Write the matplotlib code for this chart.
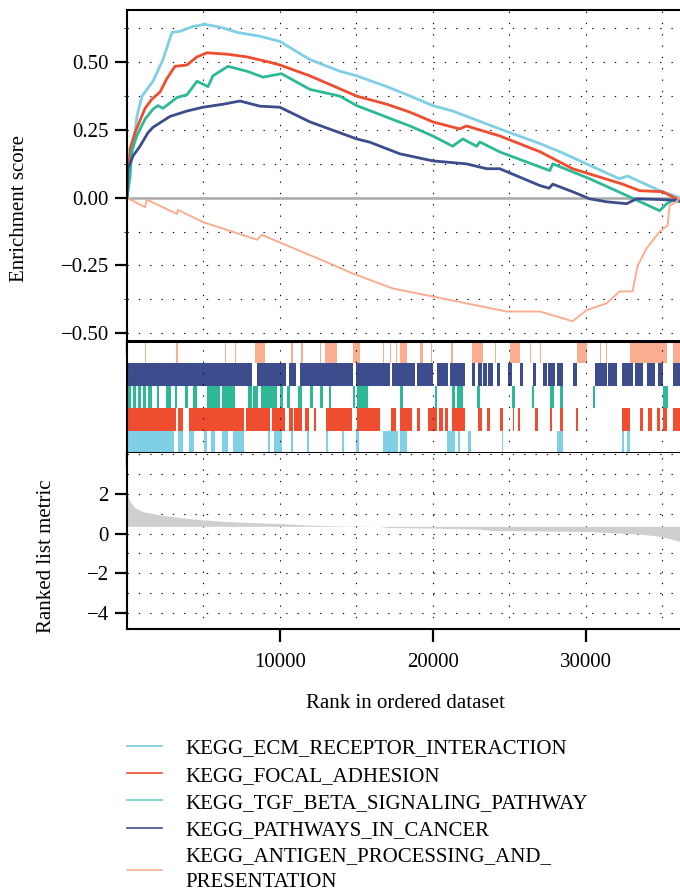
import matplotlib
matplotlib.use("Agg")
import matplotlib.pyplot as plt
from matplotlib.lines import Line2D
from matplotlib.ticker import MultipleLocator, FixedLocator

plt.rcParams['font.family'] = ['Liberation Serif', 'DejaVu Serif']

# gene set names and colours
names = ["KEGG_ECM_RECEPTOR_INTERACTION", "KEGG_FOCAL_ADHESION",
         "KEGG_TGF_BETA_SIGNALING_PATHWAY", "KEGG_PATHWAYS_IN_CANCER",
         "KEGG_ANTIGEN_PROCESSING_AND_\nPRESENTATION"]
colors = ["#7fcfe6", "#ee4d2f", "#2db996", "#3c4c8d", "#fbad90"]
legend_colors = ["#7cc6dc", "#ee4d2f", "#66d4c4", "#3c4c8d", "#f6ae96"]

# running enrichment score (rank, ES)
ecm_x = [0, 200, 457, 650, 980, 1700, 2350, 2940, 3460, 4310, 5100, 6080, 7250, 8700,
         10000, 11960, 13920, 15030, 17000, 18500, 20000, 21300, 24380, 27000, 28300,
         32200, 32750, 34840, 35950, 36150]
ecm_y = [0, 0.12, 0.21, 0.30, 0.375, 0.43, 0.51, 0.61, 0.614, 0.632, 0.64, 0.63, 0.61, 0.596,
         0.577, 0.51, 0.467, 0.45, 0.41, 0.376, 0.34, 0.32, 0.254, 0.2, 0.17,
         0.07, 0.08, 0.026, 0.004, 0.0]

focal_x = [0, 200, 520, 1180, 1630, 2160, 2610, 3140, 3920, 4580, 5230, 6540, 7840, 9350,
           10000, 11960, 15030, 17000, 18500, 20000, 21760, 22200, 24380, 27000, 29150,
           32420, 33530, 35030, 36150]
focal_y = [0, 0.18, 0.24, 0.33, 0.364, 0.39, 0.44, 0.485, 0.49, 0.52, 0.535, 0.53, 0.52, 0.50,
           0.49, 0.45, 0.375, 0.345, 0.316, 0.28, 0.254, 0.265, 0.228, 0.17, 0.107,
           0.05, 0.026, 0.022, -0.01]

tgf_x = [0, 200, 300, 650, 1180, 1700, 2030, 2350, 3270, 3920, 4580, 5300, 5620, 6600, 7840,
         8900, 10100, 11960, 13920, 15030, 17650, 18500, 20000, 21300, 21960, 22880, 23070,
         24380, 27650, 27850, 30260, 32420, 34840, 35300, 35690, 36150]
tgf_y = [0, 0.08, 0.17, 0.23, 0.29, 0.327, 0.34, 0.33, 0.37, 0.38, 0.43, 0.41, 0.45, 0.485, 0.467,
         0.445, 0.458, 0.40, 0.375, 0.34, 0.283, 0.265, 0.228, 0.19, 0.217, 0.19, 0.206,
         0.169, 0.10, 0.125, 0.07, 0.015, -0.048, -0.022, -0.01, -0.015]

cancer_x = [0, 60, 400, 850, 1370, 1700, 2810, 3920, 4970, 6270, 7390, 8690, 10000, 11960,
            15030, 15880, 17850, 20000, 22200, 23530, 24380, 27000, 27600, 27850, 29150,
            30260, 31370, 32680, 33330, 35030, 35950, 36150]
cancer_y = [0, 0.107, 0.155, 0.19, 0.24, 0.26, 0.30, 0.32, 0.334, 0.345, 0.357, 0.338, 0.334, 0.28,
            0.217, 0.205, 0.162, 0.136, 0.125, 0.107, 0.107, 0.045, 0.035, 0.05, 0.022,
            -0.004, -0.015, -0.022, -0.004, -0.007, -0.01, -0.01]

antigen_x = [0, 1180, 1300, 3270, 3330, 4970, 6930, 8500, 8820, 10200, 13270, 14770, 17390,
             20460, 23070, 24840, 27000, 29150, 30060, 31370, 32220, 33070, 33400, 33990,
             34840, 35360, 35490, 35950, 36150]
antigen_y = [0, -0.035, -0.007, -0.06, -0.045, -0.09, -0.126, -0.155, -0.137, -0.17, -0.243,
             -0.28, -0.335, -0.37, -0.40, -0.42, -0.42, -0.456, -0.415, -0.39, -0.346, -0.346,
             -0.25, -0.187, -0.125, -0.103, -0.029, -0.015, 0.0]

# hit positions (rank ranges) in the rug panel
ecm_hits = [(0, 3075), (3335, 3660), (4055, 4380), (5035, 5230), (5495, 5755), (6215, 6605),
            (6930, 7650), (9220, 9350), (9615, 10135), (10725, 10855), (11770, 11905),
            (13015, 13145), (14060, 14190), (14975, 15175), (16740, 17725), (17855, 18310),
            (20930, 21450), (21645, 21780), (22300, 22500), (24525, 24590), (28120, 28515),
            (32375, 32505), (32700, 32900)]
focal_hits = [(0, 3205), (3335, 3660), (4055, 7650), (7785, 9350), (9485, 10335), (10595, 10855),
              (10920, 11445), (11640, 11905), (12230, 12360), (13015, 14715), (15045, 16545),
              (17265, 17590), (17855, 18640), (18965, 19160), (19685, 20275), (20405, 20665),
              (20800, 20995), (21255, 22105), (22955, 23215), (23545, 23740), (24395, 24590),
              (25245, 25310), (25570, 25700), (26685, 26880), (27665, 27795), (28320, 28515),
              (29365, 29495), (32375, 32900), (33550, 33745), (34075, 34335), (34660, 34860),
              (35055, 35315), (35710, 36170)]
tgf_hits = [(0, 260), (390, 590), (720, 915), (1045, 1245), (1375, 1635), (1960, 2095),
            (2550, 2880), (3140, 3270), (3795, 3990), (4315, 4580), (5230, 6080), (6215, 7065),
            (7915, 8175), (8240, 8570), (8765, 9810), (10005, 10200), (10465, 10660),
            (11185, 11445), (11970, 12165), (12620, 12820), (13210, 13340), (14780, 14910),
            (15045, 15760), (17855, 18050), (20145, 20275), (21255, 21450), (21580, 21975),
            (22890, 23085), (25180, 25375), (26490, 26620), (27665, 27925), (28320, 28515),
            (30480, 30610), (35055, 35380)]
cancer_hits = [(0, 8175), (8500, 10400), (10595, 11085), (11315, 14780), (14975, 17200),
               (17330, 18835), (18945, 20010), (20255, 20995), (21125, 22105), (22545, 22760),
               (22955, 23195), (23285, 23525), (23610, 23935), (24180, 24395), (24915, 25160),
               (25700, 25880), (26530, 26750), (27200, 27450), (27535, 27990), (28100, 28515),
               (29170, 29410), (30610, 31370), (31460, 32025), (32355, 33090), (33225, 33745),
               (33990, 34530), (34730, 35060), (35710, 36170)]
antigen_hits = [(1175, 1275), (3205, 3335), (6410, 6505), (7065, 7160), (8370, 9025),
                (10725, 10825), (11380, 11480), (12620, 12720), (12950, 13730), (14780, 15240),
                (16740, 16840), (17200, 17300), (17590, 17690), (17855, 18310), (19160, 19360),
                (19880, 19980), (21190, 21290), (22565, 23285), (24065, 24165), (25050, 25700),
                (26355, 26455), (27010, 27110), (29430, 30085), (30935, 31030), (31325, 31425),
                (32900, 35315), (35710, 36170)]

# ranked list metric
metric_x = [0, 200, 500, 1000, 2000, 3000, 4000, 5000, 6500, 8000, 10000, 12000, 14000, 16500,
            17000, 20000, 23000, 24000, 27000, 30000, 31500, 33000, 34500, 35500, 36150]
metric_y = [2.0, 1.6, 1.3, 1.1, 0.95, 0.85, 0.75, 0.68, 0.6, 0.55, 0.5, 0.42, 0.38, 0.36,
            0.3, 0.27, 0.22, 0.15, 0.13, 0.1, 0.05, 0.0, -0.1, -0.25, -0.4]
metric_base = 0.36

xs = [ecm_x, focal_x, tgf_x, cancer_x, antigen_x]
ys = [ecm_y, focal_y, tgf_y, cancer_y, antigen_y]
hits = [ecm_hits, focal_hits, tgf_hits, cancer_hits, antigen_hits]

W, H = 680, 892
fig = plt.figure(figsize=(W / 100, H / 100), dpi=100)
left = 127 / W
width = 1 - left
xmax = 36170
dots = (0, (1.2, 9))

def box(top_px, bot_px):
    return [left, 1 - bot_px / H, width, (bot_px - top_px) / H]

ax1 = fig.add_axes(box(10, 341))
ax2 = fig.add_axes(box(341, 453))
ax3 = fig.add_axes(box(453, 629))

# enrichment score panel
ax1.axhline(0, color="#a8a8a8", lw=1.8, zorder=1)
lws = [2.0, 2.0, 2.0, 2.0, 1.4]
for x, y, c, lw in zip(xs, ys, colors, lws):
    ax1.plot(x, y, color=c, lw=lw, zorder=2)
ax1.set_xlim(0, xmax)
ax1.set_ylim(-0.529, 0.693)
ax1.yaxis.set_major_locator(FixedLocator([-0.5, -0.25, 0, 0.25, 0.5]))
ax1.set_yticklabels(["\u22120.50", "\u22120.25", "0.00", "0.25", "0.50"])
ax1.yaxis.set_minor_locator(MultipleLocator(0.125))
ax1.xaxis.set_major_locator(MultipleLocator(5000))
ax1.tick_params(axis="x", length=0, labelbottom=False)
ax1.grid(True, which="both", color="black", lw=0.8, ls=dots)
ax1.set_axisbelow(True)
for s in ["right", "bottom"]:
    ax1.spines[s].set_visible(False)

# rug panel: light blue at the bottom row, salmon at the top row
for row, (h, c) in enumerate(zip(hits, colors)):
    ax2.broken_barh([(a, b - a) for a, b in h], (row, 1), facecolors=c, lw=0)
ax2.set_xlim(0, xmax)
ax2.set_ylim(0, 5)
ax2.set_yticks([])
ax2.xaxis.set_major_locator(MultipleLocator(5000))
ax2.tick_params(axis="x", length=0, labelbottom=False)
ax2.grid(True, axis="x", color="black", lw=0.8, ls=dots)
ax2.set_axisbelow(False)
ax2.spines["right"].set_visible(False)
ax2.spines["top"].set_linewidth(2.2)
ax2.spines["bottom"].set_linewidth(2.2)

# ranked list metric panel
ax3.fill_between(metric_x, metric_y, metric_base, color="#cfcfcf", lw=0)
ax3.set_xlim(0, xmax)
ax3.set_ylim(-4.78, 4.03)
ax3.yaxis.set_major_locator(FixedLocator([-4, -2, 0, 2]))
ax3.yaxis.set_minor_locator(MultipleLocator(1))
ax3.xaxis.set_major_locator(FixedLocator([10000, 20000, 30000]))
ax3.xaxis.set_minor_locator(MultipleLocator(5000))
ax3.grid(True, which="both", color="black", lw=0.8, ls=dots)
ax3.set_axisbelow(True)
ax3.tick_params(which="minor", length=0)
for s in ["right", "top"]:
    ax3.spines[s].set_visible(False)

for ax in (ax1, ax2, ax3):
    ax.spines["left"].set_linewidth(1.5)
    ax.tick_params(which="major", length=9, width=1.6, labelsize=15, pad=4)
ax3.tick_params(axis="x", which="major", pad=8)
ax1.spines["top"].set_linewidth(1.5)
ax3.spines["bottom"].set_linewidth(1.5)

fig.text(20 / W, 1 - 208 / H, "Enrichment score", rotation=90, ha="center", va="center", fontsize=15)
fig.text(47 / W, 1 - 556 / H, "Ranked list metric", rotation=90, ha="center", va="center", fontsize=15)
fig.text(405 / W, 1 - 704 / H, "Rank in ordered dataset", ha="center", va="center", fontsize=15)

handles = [Line2D([], [], color=c, lw=1.2) for c in legend_colors]
leg = fig.legend(handles, names, loc="upper left", bbox_to_anchor=(127 / W, 1 - 739 / H),
                 frameon=False, fontsize=15, borderpad=0, borderaxespad=0, handlelength=1.7,
                 handletextpad=1.1, labelspacing=0.36)
for t in leg.get_texts():
    t.set_linespacing(1.5)

fig.savefig("out.png", dpi=100)
